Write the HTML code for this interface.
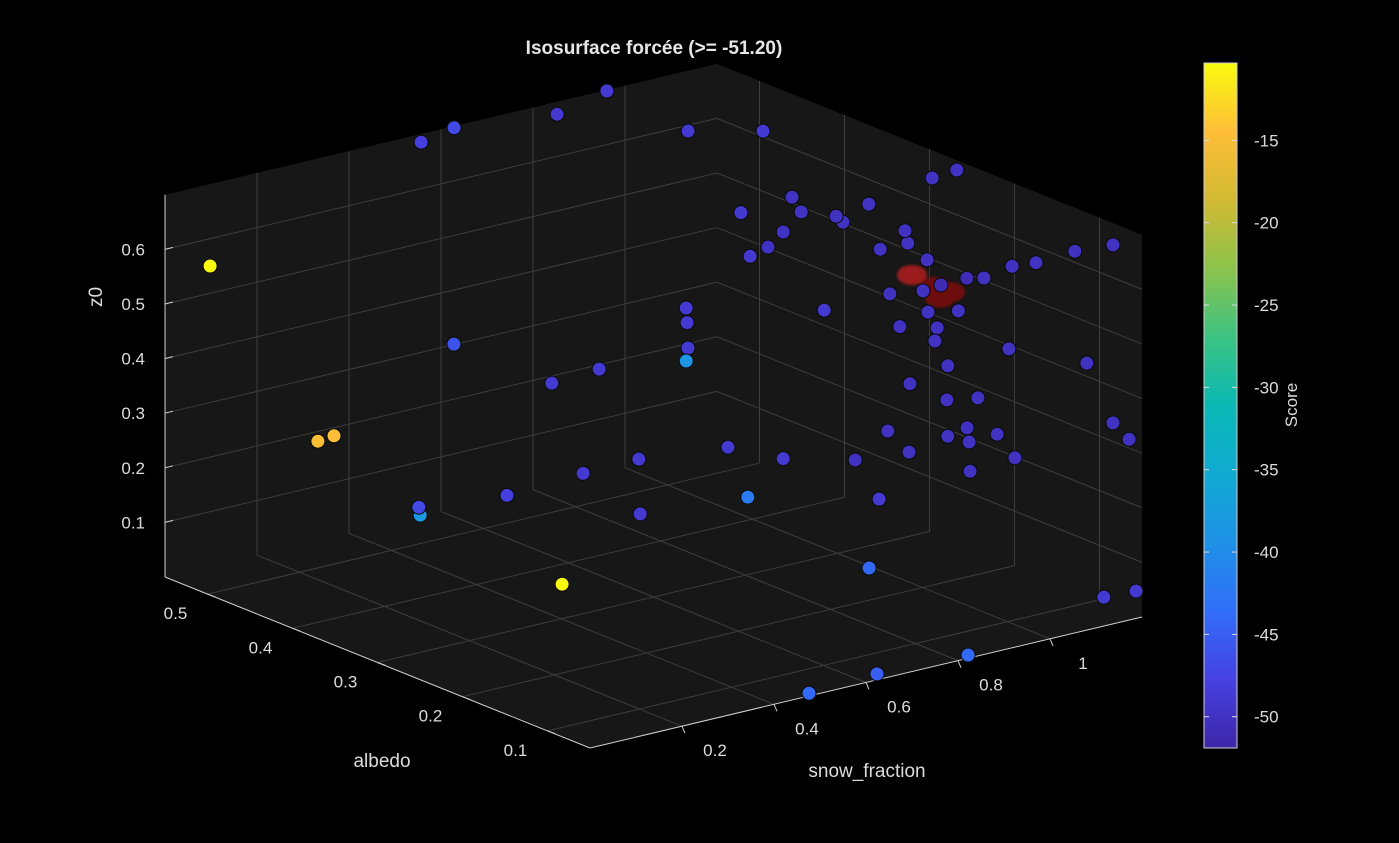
<!DOCTYPE html>
<html><head><meta charset="utf-8"><style>
html,body{margin:0;padding:0;background:#000;}
svg{display:block;font-family:"Liberation Sans",Arial,sans-serif;}
</style></head><body>
<svg id="chart" width="1399" height="843" viewBox="0 0 1399 843">
<defs>
<linearGradient id="cbgrad" x1="0" y1="1" x2="0" y2="0">
<stop offset="0" stop-color="rgb(62,38,168)"/><stop offset="0.1" stop-color="rgb(70,65,225)"/>
<stop offset="0.2" stop-color="rgb(49,110,250)"/><stop offset="0.3" stop-color="rgb(30,145,230)"/>
<stop offset="0.4" stop-color="rgb(17,170,210)"/><stop offset="0.5" stop-color="rgb(10,185,180)"/>
<stop offset="0.6" stop-color="rgb(60,195,130)"/><stop offset="0.7" stop-color="rgb(140,195,75)"/>
<stop offset="0.8" stop-color="rgb(210,185,50)"/><stop offset="0.9" stop-color="rgb(254,190,55)"/>
<stop offset="1" stop-color="rgb(249,251,14)"/>
</linearGradient>
<filter id="blur"><feGaussianBlur stdDeviation="1.2"/></filter>
</defs>
<text x="654" y="54" text-anchor="middle" font-size="19" font-weight="bold" fill="#e6e6e6">Isosurface forcée (&gt;= -51.20)</text>
<g id="axes"></g>
<g id="cb"></g>
</svg>
<script>
const albedo=[.535,.547,.527,.548,.439,.406,.246,.25,.3,.3,.3,.3,.3,.3,.3,.3,.3,.2,.2,.2,.2,.55,.05,.05,.08,.1,.15,.15,.2,.2,.2,.2,.2,.3,.3,.3,.25,.2,.2,.3,.3,.3,.1,.05,.2,.3,.3,.2,.25,.2,.15,.05,.05,.25,.2,.15,.15,.3,.25,.1,.3,.3,.25,.15,.3,.5,.5,.35,.3,.25,.45,.45,.3,.25,.2,.05,.05,.05,.05,.05];
const snow=[.529,.623,.81,.957,.932,1.034,1.106,1.167,.79,.901,.921,.997,1.012,1.068,.882,.849,.81,.962,.968,.908,1.01,.098,1.054,1.137,1.025,1.01,1.004,1.041,1.04,1.001,.929,1.078,1.012,.971,.671,.673,1.043,1.032,1.027,.166,.675,.671,1.003,1.08,1.055,.482,.379,1.097,1.065,1.053,1.028,1.137,1.172,1.017,1.055,1.009,1.07,.762,1.063,1.016,.568,.882,.946,1.011,.447,.275,.24,.374,.805,.998,.367,.37,.571,.309,.884,1.117,1.187,.822,.624,.476];
const z0=[.7,.7,.7,.7,.7,.7,.7,.7,.666,.672,.641,.618,.604,.626,.612,.591,.582,.661,.637,.638,.598,.55,.699,.694,.665,.649,.597,.59,.546,.543,.552,.491,.502,.451,.515,.488,.438,.469,.446,.55,.441,.418,.499,.489,.395,.441,.436,.273,.329,.333,.373,.368,.331,.252,.266,.296,.298,.242,.204,.297,.259,.197,.213,.242,.257,.235,.232,.2,.142,.131,.117,.102,.158,.113,.059,.053,.05,.006,.011,.005];
const score=[-48,-47,-49,-49,-49,-49,-50,-50,-49,-50,-50,-50,-50,-50,-50,-50,-49,-50,-50,-50,-50,-10.5,-50,-50,-50,-50,-51,-50,-51,-50,-50,-50,-50,-49,-49,-49,-50,-50,-50,-46,-49,-39,-50,-50,-50,-49,-49,-50,-50,-50,-50,-50,-50,-50,-50,-50,-50,-49,-50,-50,-49,-49,-50,-50,-49,-14.5,-14.8,-48,-42,-49,-47,-38,-49,-10.5,-44,-49,-49,-44,-45,-44];
const isoA=[.2,.2,.2,.2],isoS=[.977,1.027,1.06,1.038],isoZ=[.577,.545,.529,.523];
const albedoTicks=[0.1,0.2,0.3,0.4,0.5],snowTicks=[0.2,0.4,0.6,0.8,1],zTicks=[0.1,0.2,0.3,0.4,0.5,0.6];
const cbTicks=[-15,-20,-25,-30,-35,-40,-45,-50];
const A0=.05,A1=.55,S0=0,S1=1.2,Z0=0,Z1=.7,CMIN=-51.9,CMAX=-10.3;
const NS="http://www.w3.org/2000/svg";
function P(a,s,z){return [590-850*(a-A0)+460*(s-S0), 748-342*(a-A0)-109.2*(s-S0)-546*(z-Z0)];}
function el(t,at,p){const e=document.createElementNS(NS,t);for(const k in at)e.setAttribute(k,at[k]);p.appendChild(e);return e;}
const stops=[[62,38,168],[70,65,225],[49,110,250],[30,145,230],[17,170,210],[10,185,180],[60,195,130],[140,195,75],[210,185,50],[254,190,55],[249,251,14]];
function cmap(v){let t=Math.max(0,Math.min(1,(v-CMIN)/(CMAX-CMIN)))*10;const i=Math.min(9,Math.floor(t)),f=t-i;const c=stops[i].map((x,j)=>Math.round(x+(stops[i+1][j]-x)*f));return `rgb(${c})`;}
const g=document.getElementById('axes');
const pts=(arr)=>arr.map(p=>p.join(',')).join(' ');
const bg=el('polygon',{points:pts([P(A1,S0,Z1),P(A1,S1,Z1),P(A0,S1,Z1),P(A0,S1,Z0),P(A0,S0,Z0),P(A1,S0,Z0)]),fill:'#171717'},g);


function line(p,q,c,w,name){const l=el('line',{x1:p[0],y1:p[1],x2:q[0],y2:q[1],stroke:c,'stroke-width':w},g);}
const GC='#3d3d3d';
albedoTicks.forEach(a=>{line(P(a,S0,Z0),P(a,S1,Z0),GC,1,'grid-line-albedo');line(P(a,S1,Z0),P(a,S1,Z1),GC,1,'grid-line-albedo');});
snowTicks.forEach(s=>{line(P(A0,s,Z0),P(A1,s,Z0),GC,1,'grid-line-snow');line(P(A1,s,Z0),P(A1,s,Z1),GC,1,'grid-line-snow');});
zTicks.forEach(z=>{line(P(A1,S0,z),P(A1,S1,z),GC,1,'grid-line-z');line(P(A1,S1,z),P(A0,S1,z),GC,1,'grid-line-z');});
line(P(A0,S0,Z0),P(A1,S0,Z0),'#d0d0d0',1,'albedo-axis-line');
line(P(A0,S0,Z0),P(A0,S1,Z0),'#d0d0d0',1,'snow-axis-line');
line(P(A1,S0,Z0),P(A1,S0,Z1),'#d0d0d0',1,'z-axis-line');
function txt(x,y,s,anchor,name,size,rot){const t=el('text',{x:x,y:y,'text-anchor':anchor,'font-size':size||17,fill:'#dcdcdc'},g);if(rot)t.setAttribute('transform',`rotate(${rot} ${x} ${y})`);t.textContent=s;return t;}
albedoTicks.forEach(a=>{const p=P(a,S0,Z0);line(p,[p[0]+8,p[1]+3],'#d0d0d0',1,'albedo-tick');txt(p[0]-32,p[1]+25,String(a),'middle','albedo-tick-label');});
snowTicks.forEach(s=>{const p=P(A0,s,Z0);line(p,[p[0]+3,p[1]+7],'#d0d0d0',1,'snow-tick');txt(p[0]+33,p[1]+30,String(s),'middle','snow-tick-label');});
zTicks.forEach(z=>{const p=P(A1,S0,z);line(p,[p[0]+8,p[1]-2],'#d0d0d0',1,'z-tick');txt(p[0]-20,p[1]+6,String(z),'end','z-tick-label');});
txt(382,767,'albedo','middle','albedo-axis-title',19);
txt(867,777,'snow_fraction','middle','snow-axis-title',19);
txt(102,297,'z0','middle','z-axis-title',19,-90);
const iso=el('g',{filter:'url(#blur)'},g);


isoA.forEach((a,i)=>{const p=P(a,isoS[i],isoZ[i]);const e=el('ellipse',{cx:p[0],cy:p[1],rx:15,ry:10,fill:i==0?'#9a1a1a':'#6e0a0a'},iso);});
const idx=albedo.map((_,i)=>i).sort((i,j)=>((albedo[j]-A0)*850/550+snow[j])-((albedo[i]-A0)*850/550+snow[i]));
idx.forEach(i=>{const p=P(albedo[i],snow[i],z0[i]);const c=el('circle',{cx:p[0].toFixed(1),cy:p[1].toFixed(1),r:7,fill:cmap(score[i]),stroke:'#0a0a0a','stroke-width':1},g);

});
const cb=document.getElementById('cb');
const CX=1204,CW=33,CT=63,CB=748;
const r=el('rect',{x:CX,y:CT,width:CW,height:CB-CT,fill:'url(#cbgrad)',stroke:'#cfcfcf','stroke-width':1},cb);


cbTicks.forEach(v=>{const y=CB-(v-CMIN)/(CMAX-CMIN)*(CB-CT);
const t1=el('line',{x1:CX,y1:y,x2:CX+5,y2:y,stroke:'#ddd'},cb);
const t2=el('line',{x1:CX+CW-5,y1:y,x2:CX+CW,y2:y,stroke:'#ddd'},cb);
const t=el('text',{x:1254,y:y+6,'font-size':17,fill:'#dcdcdc'},cb);t.textContent=String(v);});
const st=el('text',{x:1297,y:405,'font-size':17,fill:'#dcdcdc','text-anchor':'middle',transform:'rotate(-90 1297 405)'},cb);st.textContent='Score';


</script>
</body></html>
